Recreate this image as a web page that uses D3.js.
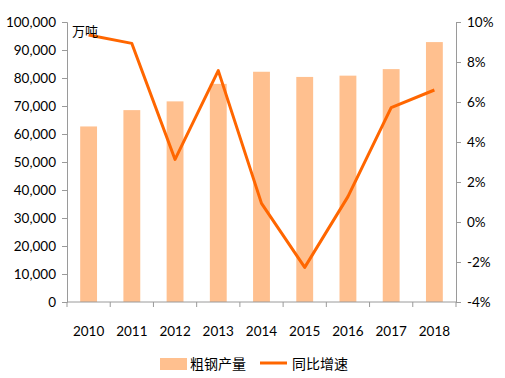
<!DOCTYPE html>
<html>
<head>
<meta charset="utf-8">
<script src="https://cdn.jsdelivr.net/npm/d3@7"></script>
<style>
  body { margin: 0; background: #fff; }
  text { font-family: Lato, "Noto Sans CJK SC", sans-serif; fill: #000; }
</style>
</head>
<body>
<div id="chart"></div>
<script>
const years = ["2010", "2011", "2012", "2013", "2014", "2015", "2016", "2017", "2018"];
const output = [62696, 68528, 71654, 77904, 82231, 80383, 80837, 83173, 92826];
const growth = [9.35, 8.93, 3.13, 7.57, 0.93, -2.27, 1.27, 5.72, 6.6];
const leftTicks = [0, 10000, 20000, 30000, 40000, 50000, 60000, 70000, 80000, 90000, 100000];
const rightTicks = [-4, -2, 0, 2, 4, 6, 8, 10];

const W = 505, H = 378;
const margin = { top: 22, right: 49, bottom: 76, left: 67 };
const width = W - margin.left - margin.right,
    height = H - margin.top - margin.bottom;

const svg = d3.select("#chart")
    .append("svg")
    .attr("width", W)
    .attr("height", H)
    .append("g")
    .attr("transform", `translate(${margin.left},${margin.top})`);

const x = d3.scaleBand().domain(years).range([0, width]);
const yL = d3.scaleLinear().domain([0, 100000]).range([height, 0]);
const yR = d3.scaleLinear().domain([-4, 10]).range([height, 0]);

// bars
const barW = x.bandwidth() * 0.39;
svg.selectAll(".bar")
    .data(years)
    .join("rect")
    .attr("class", "bar")
    .attr("x", (d, i) => x(d) + x.bandwidth() / 2 - barW / 2)
    .attr("y", (d, i) => yL(output[i]))
    .attr("width", barW)
    .attr("height", (d, i) => height - yL(output[i]))
    .attr("fill", "#FFC08F");

// axes
const axisColor = "#9a9a9a";
function styleAxis(g) {
    g.selectAll("path").attr("stroke", axisColor).attr("stroke-width", 1);
    g.selectAll("line").attr("stroke", axisColor).attr("stroke-width", 1);
    g.selectAll("text").style("font-size", "13.5px");
}

svg.append("g")
    .call(d3.axisLeft(yL).tickValues(leftTicks).tickSize(5).tickSizeOuter(5)
        .tickPadding(6).tickFormat(d3.format(",")))
    .call(styleAxis);

svg.append("g")
    .attr("transform", `translate(${width},0)`)
    .call(d3.axisRight(yR).tickValues(rightTicks).tickSize(5).tickSizeOuter(5)
        .tickPadding(6).tickFormat(d => d + "%"))
    .call(styleAxis);

// x axis: ticks at category boundaries
const xg = svg.append("g").attr("transform", `translate(0,${height})`);
xg.append("line")
    .attr("x1", 0).attr("x2", width)
    .attr("stroke", axisColor);
xg.selectAll(".xt")
    .data(years.concat(["end"]))
    .join("line")
    .attr("x1", (d, i) => i < years.length ? x(d) : width)
    .attr("x2", (d, i) => i < years.length ? x(d) : width)
    .attr("y1", 0).attr("y2", 5)
    .attr("stroke", axisColor);
xg.selectAll(".xl")
    .data(years)
    .join("text")
    .attr("x", d => x(d) + x.bandwidth() / 2)
    .attr("y", 34)
    .attr("text-anchor", "middle")
    .style("font-size", "13.5px")
    .text(d => d);

// line
svg.append("path")
    .datum(years)
    .attr("fill", "none")
    .attr("stroke", "#FF6600")
    .attr("stroke-width", 3)
    .attr("stroke-linejoin", "round")
    .attr("d", d3.line()
        .x(d => x(d) + x.bandwidth() / 2)
        .y((d, i) => yR(growth[i])));

// unit label
svg.append("text")
    .attr("x", 5)
    .attr("y", 14)
    .style("font-size", "13px")
    .style("font-family", "'Noto Sans CJK SC', sans-serif")
    .text("万吨");

// legend
const lg = svg.append("g").attr("transform", `translate(0,${height})`);
lg.append("rect")
    .attr("x", 160 - margin.left).attr("y", 56)
    .attr("width", 27).attr("height", 12)
    .attr("fill", "#FFC08F");
lg.append("text")
    .attr("x", 190 - margin.left).attr("y", 67)
    .style("font-size", "14px")
    .style("font-family", "'Noto Sans CJK SC', sans-serif")
    .text("粗钢产量");
lg.append("line")
    .attr("x1", 260 - margin.left).attr("x2", 287 - margin.left)
    .attr("y1", 61).attr("y2", 61)
    .attr("stroke", "#FF6600").attr("stroke-width", 3);
lg.append("text")
    .attr("x", 292 - margin.left).attr("y", 67)
    .style("font-size", "14px")
    .style("font-family", "'Noto Sans CJK SC', sans-serif")
    .text("同比增速");
</script>
</body>
</html>
